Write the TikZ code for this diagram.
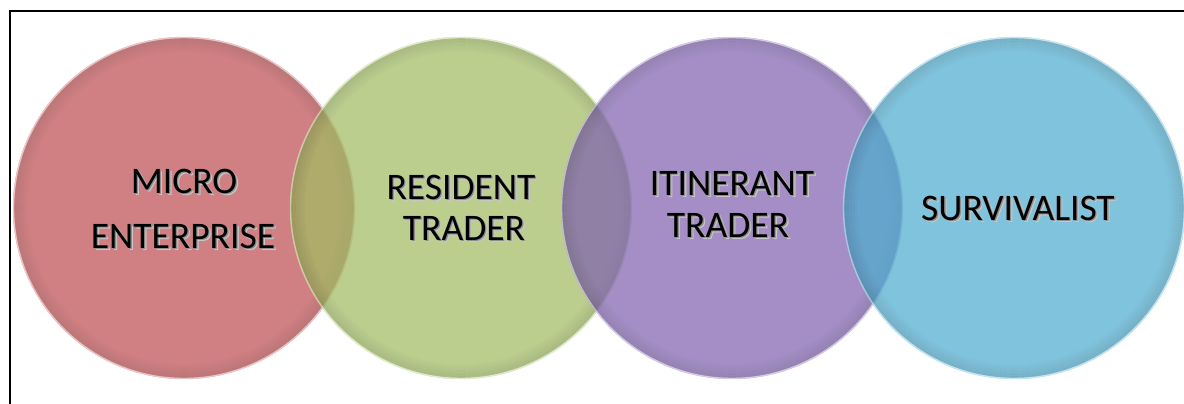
\documentclass[tikz,border=0pt]{standalone}
\usepackage{fontspec}
\setmainfont{Carlito}
\definecolor{cred}{RGB}{191,79,83}
\definecolor{cgreen}{RGB}{161,188,99}
\definecolor{cpurple}{RGB}{129,99,176}
\definecolor{ccyan}{RGB}{79,173,208}
\tikzset{
  lbl/.style={anchor=base, inner sep=0pt, font=\fontsize{37.5}{37.5}\selectfont, text=black},
  disc/.style={circle, minimum size=342pt, inner sep=0pt, draw=none},
  framestyle/.style={line width=2.5pt, black},
}
\newcommand\shtxt[1]{%
  \rlap{\hspace{2.4pt}\raisebox{-2.4pt}{\color{black!22}#1}}%
  \rlap{\hspace{1.3pt}\raisebox{-1.3pt}{\color{black!45}#1}}#1}
\newcommand\mydisc[3]{%
  \begin{scope}[transparency group, opacity=0.72]
    \node[disc, fill=#3] (#1) at (#2,208) {};
    \foreach \i in {1,...,9} {
      \pgfmathsetmacro\op{0.14-\i*0.014}
      \draw[black, opacity=\op, line width=1.6pt] (#2,208) circle ({(170.5-\i*1.5)*1pt});
    }
    \draw[#3!45!white, line width=1.4pt] (#2,208) circle (170.5pt);
  \end{scope}}
\begin{document}
\begin{tikzpicture}[x=1pt,y=-1pt]
  \useasboundingbox (0,0) rectangle (1184,404);
  \fill[white] (0,0) rectangle (1184,404);
  \coordinate (fbl) at (10,405);
  \coordinate (ftl) at (10,11);
  \coordinate (ftr) at (1185,11);
  \mydisc{red}{184}{cred}
  \mydisc{green}{461}{cgreen}
  \mydisc{purple}{732}{cpurple}
  \mydisc{cyan}{1014}{ccyan}
  \node[lbl] (ta) at (184,193) {\shtxt{MICRO}};
  \node[lbl] (tb) at (183,248) {\shtxt{ENTERPRISE}};
  \node[lbl] (tc) at (461,199) {\shtxt{RESIDENT}};
  \node[lbl] (td) at (464,240) {\shtxt{TRADER}};
  \node[lbl] (te) at (732,195) {\shtxt{ITINERANT}};
  \node[lbl] (tf) at (728,237) {\shtxt{TRADER}};
  \node[lbl] (tg) at (1018,220) {\shtxt{SURVIVALIST}};
  \draw[framestyle] (fbl) -- (ftl) -- (ftr);
\end{tikzpicture}
\end{document}
